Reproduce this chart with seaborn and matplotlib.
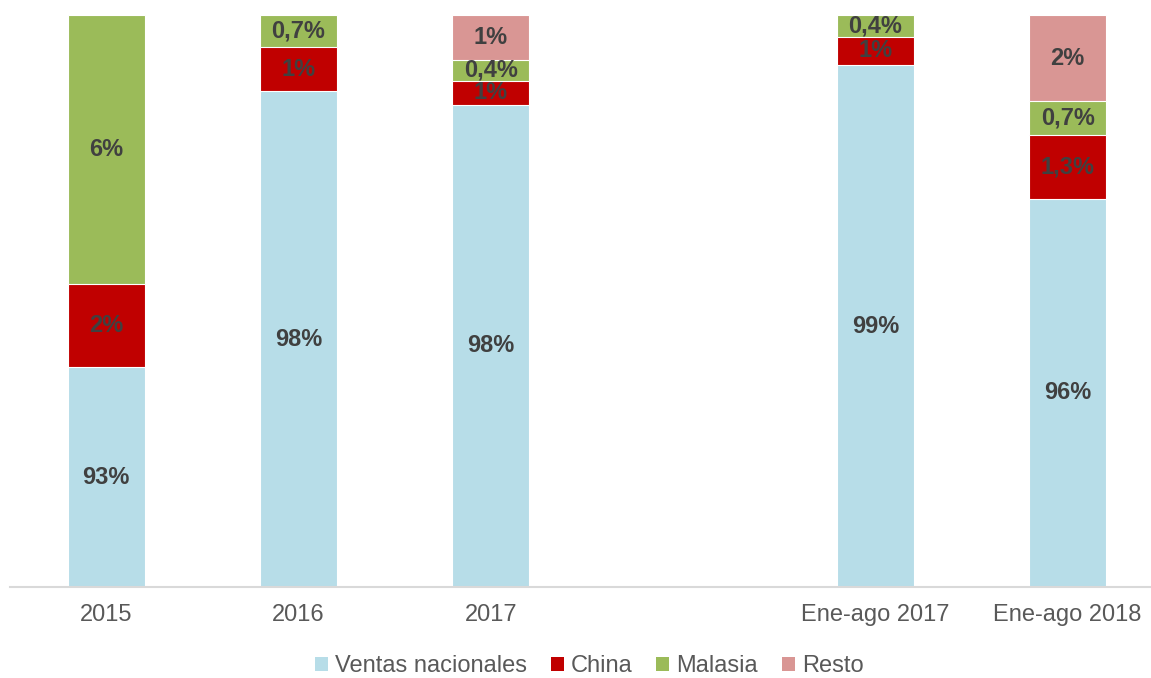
import matplotlib
matplotlib.use('Agg')
import matplotlib.pyplot as plt
from matplotlib.patches import Patch
import seaborn as sns
import pandas as pd

# ---- data (shares in %) ----
categories = ['2015', '2016', '2017', 'Ene-ago 2017', 'Ene-ago 2018']
order = ['2015', '2016', '2017', ' ', 'Ene-ago 2017', 'Ene-ago 2018']

ventas = [92.0, 98.27, 97.96, 98.86, 95.82]
china = [1.89, 1.0, 0.55, 0.65, 1.45]
malasia = [6.11, 0.73, 0.46, 0.49, 0.77]
resto = [0.0, 0.0, 1.03, 0.0, 1.96]

ventas_lbl = ['93%', '98%', '98%', '99%', '96%']
china_lbl = ['2%', '1%', '1%', '1%', '1,3%']
malasia_lbl = ['6%', '0,7%', '0,4%', '0,4%', '0,7%']
resto_lbl = ['', '', '1%', '', '2%']

series = ['Ventas nacionales', 'China', 'Malasia', 'Resto']
colors = ['#B7DDE8', '#C00000', '#9BBB59', '#D99694']
y_min = 87

df = pd.DataFrame({'cat': categories, 'Ventas nacionales': ventas, 'China': china,
                   'Malasia': malasia, 'Resto': resto})
cum = df[series].cumsum(axis=1)

sns.set_style('white')
plt.rcParams['font.family'] = ['Liberation Sans', 'DejaVu Sans']

fig = plt.figure(figsize=(11.51, 6.78), dpi=100)
ax = fig.add_axes([10 / 1151, 1 - 587 / 678, 1 - 10 / 1151, (587 - 15) / 678])

# draw cumulative totals from the top layer down so each covers the one above
for name, col in reversed(list(zip(series, colors))):
    sns.barplot(x=df['cat'], y=cum[name], order=order, color=col, width=0.4,
                edgecolor='white', linewidth=0.8, saturation=1, ax=ax)

# segment labels
pos = {c: order.index(c) for c in categories}
lbls = {'Ventas nacionales': ventas_lbl, 'China': china_lbl, 'Malasia': malasia_lbl, 'Resto': resto_lbl}
for i, c in enumerate(categories):
    bottom = y_min
    for name in series:
        top = cum[name].iloc[i]
        txt = lbls[name][i]
        if txt:
            ax.text(pos[c], (max(bottom, y_min) + top) / 2, txt, ha='center', va='center',
                    fontsize=17, fontweight='bold', color='#404040')
        bottom = top

ax.set_ylim(y_min, 100)
ax.set_xlim(-0.5, -0.5 + (1151 - 10) / 192.3)
ax.set_xlabel('')
ax.set_ylabel('')
ax.set_yticks([])
ax.tick_params(axis='x', length=0, pad=12, labelsize=17, labelcolor='#595959')
for s in ['top', 'right', 'left']:
    ax.spines[s].set_visible(False)
ax.spines['bottom'].set_color('#D9D9D9')
ax.spines['bottom'].set_linewidth(1.5)

handles = [Patch(facecolor=c, edgecolor='none') for c in colors]
fig.legend(handles, series, loc='center', bbox_to_anchor=(0.512, 1 - 666 / 678), ncol=4,
           frameon=False, fontsize=17, labelcolor='#595959', handlelength=0.55,
           handleheight=0.55, handletextpad=0.3, columnspacing=1.0)

fig.savefig('out.png', dpi=100)
plt.close(fig)
